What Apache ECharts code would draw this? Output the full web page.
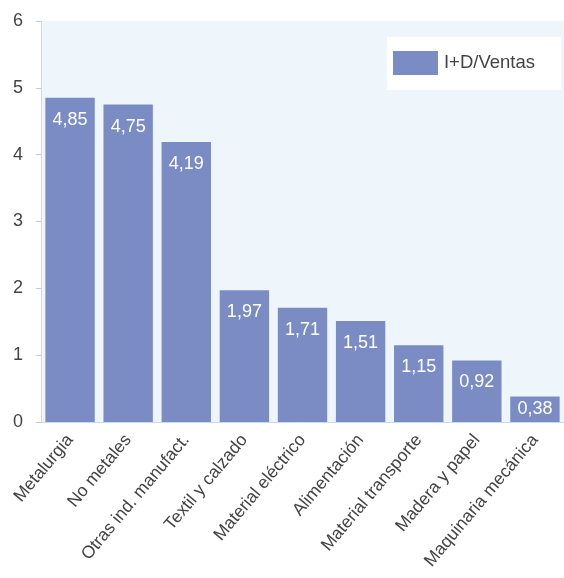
<!DOCTYPE html>
<html><head><meta charset="utf-8">
<script src="https://cdn.jsdelivr.net/npm/echarts@6/dist/echarts.min.js"></script>
<style>html,body{margin:0;padding:0;background:#fff}#c{width:564px;height:578px}</style>
</head><body><div id="c"></div>
<script>
const categories = ["Metalurgia","No metales","Otras ind. manufact.","Textil y calzado","Material eléctrico","Alimentación","Material transporte","Madera y papel","Maquinaria mecánica"];
const values = [4.85,4.75,4.19,1.97,1.71,1.51,1.15,0.92,0.38];
const seriesName = "I+D/Ventas";
const chart = echarts.init(document.getElementById('c'));
chart.setOption({
  animation:false,
  textStyle:{fontFamily:'Liberation Sans, Arial, sans-serif'},
  grid:{left:41,right:-2,top:21,bottom:156,backgroundColor:'#eef6fb',show:true,borderWidth:0},
  legend:{
    data:[{name:seriesName,icon:'rect'}], right:3, top:37, orient:'horizontal',
    backgroundColor:'#ffffff', padding:[14,26,15,6], borderRadius:0,
    itemWidth:45, itemHeight:24, itemGap:10,
    textStyle:{fontSize:18.5,color:'#444', padding:[0,0,0,1]}
  },
  xAxis:{
    type:'category', data:categories,
    axisLine:{lineStyle:{color:'#c5dcec'}},
    axisTick:{alignWithLabel:true,length:5,lineStyle:{color:'#c5dcec'}},
    axisLabel:{rotate:50,interval:0,fontSize:17.5,color:'#444',margin:15}
  },
  yAxis:{
    type:'value', min:0, max:6, interval:1,
    axisLine:{show:true,lineStyle:{color:'#c5dcec'}},
    axisTick:{show:true,length:5,lineStyle:{color:'#b9cfe0'}},
    splitLine:{show:false},
    axisLabel:{fontSize:18,color:'#444',margin:18}
  },
  series:[{
    name:seriesName, type:'bar', barCategoryGap:'15%',
    data:values.map(v=>v<0.5?{value:v,label:{distance:3}}:v),
    itemStyle:{color:'#7b8cc4'},
    label:{show:true,position:'insideTop',distance:13,color:'#fff',fontSize:18,
      formatter:p=>p.value.toFixed(2).replace('.',',')}
  }]
});
</script></body></html>
